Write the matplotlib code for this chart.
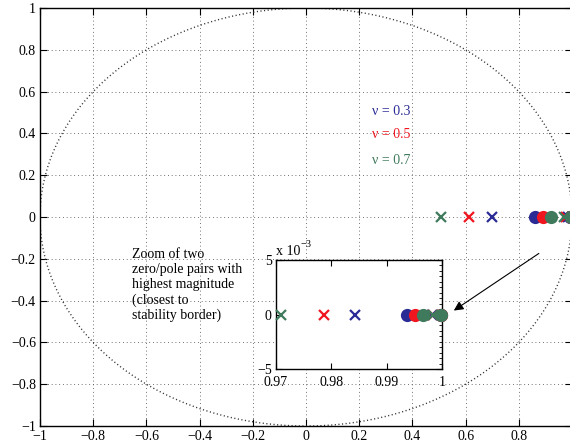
import numpy as np
import matplotlib
matplotlib.use("Agg")
import matplotlib.pyplot as plt
from matplotlib.ticker import MultipleLocator

plt.rcParams['font.family'] = ['Liberation Serif', 'DejaVu Serif']
plt.rcParams['font.size'] = 10

# ---- data ----
nu_values = [0.3, 0.5, 0.7]
series_colors = ['#2b2b96', '#f01620', '#3f7a5c']
legend_labels = ['ν = 0.3', 'ν = 0.5', 'ν = 0.7']
# poles (x) and zeros (o), all on the real axis
poles_outer = [0.700, 0.614, 0.509]
zeros_outer = [0.861, 0.891, 0.921]
poles_inner = [0.9842, 0.9787, 0.9709]
zeros_inner = [0.9936, 0.9951, 0.99655]
poles_edge = [0.9982, 0.9983, 0.9983]
zeros_edge = [0.9998, 0.9998, 0.9998]

main_ticks = [-1, -0.8, -0.6, -0.4, -0.2, 0, 0.2, 0.4, 0.6, 0.8, 1]
main_xticklabels = ['\u22121', '\u22120.8', '\u22120.6', '\u22120.4', '\u22120.2', '0',
                    '0.2', '0.4', '0.6', '0.8', '']
main_yticklabels = ['\u22121', '\u22120.8', '\u22120.6', '\u22120.4', '\u22120.2', '0',
                    '0.2', '0.4', '0.6', '0.8', '1']
inset_xticks = [0.97, 0.98, 0.99, 1.0]
inset_xticklabels = ['0.97', '0.98', '0.99', '1']
inset_yticks = [-0.005, 0, 0.005]
inset_yticklabels = ['\u22125', '0', '5']

annotation_text = "Zoom of two\nzero/pole pairs with\nhighest magnitude\n(closest to\nstability border)"

fig = plt.figure(figsize=(5.70, 4.46), dpi=100)
ax = fig.add_axes([40/570, 20/446, 532/570, 418/446])

theta = np.linspace(0, 2*np.pi, 721)
ax.plot(np.cos(theta), np.sin(theta), color='#333333', lw=1.0, linestyle=(0, (0.8, 1.8)))

def draw_markers(a, groups, clip=True):
    for i in range(3):
        c = series_colors[i]
        xs_p = [g[i] for g in groups[0]]
        xs_z = [g[i] for g in groups[1]]
        a.plot(xs_p, [0]*len(xs_p), linestyle='none', marker='x', ms=7.5, mew=1.6,
               color=c, zorder=3, clip_on=clip)
        a.plot(xs_z, [0]*len(xs_z), linestyle='none', marker='o', ms=9.5, mew=0,
               color=c, zorder=3, clip_on=clip)

draw_markers(ax, ([poles_outer, poles_inner, poles_edge],
                  [zeros_outer, zeros_inner, zeros_edge]))

ax.set_xlim(-1, 1)
ax.set_ylim(-1, 1)
ax.set_xticks(main_ticks)
ax.set_xticklabels(main_xticklabels)
ax.set_yticks(main_ticks)
ax.set_yticklabels(main_yticklabels)
ax.tick_params(direction='in', top=True, right=True, length=5, width=0.8, pad=3, labelsize=10)
ax.grid(True, color='#444444', lw=0.6, linestyle=(0, (1, 3.5)))
for s in ax.spines.values():
    s.set_linewidth(1.0)

for lbl, c, y in zip(legend_labels, series_colors, [0.507, 0.397, 0.272]):
    ax.text(0.248, y, lbl, color=c, fontsize=10, va='center', ha='left')

ax.text(-0.655, -0.15, annotation_text, fontsize=10, va='top', ha='left')

ax.annotate('', xy=(0.547, -0.455), xytext=(0.884, -0.167),
            arrowprops=dict(arrowstyle='-|>', color='k', lw=0.8, mutation_scale=14))

# inset
ins = fig.add_axes([276/570, 77/446, 166/570, 109/446])
ins.set_facecolor('white')
draw_markers(ins, ([poles_inner, poles_edge], [zeros_inner, zeros_edge]), clip=False)
ins.set_xlim(0.97, 1.0)
ins.set_ylim(-0.005, 0.005)
ins.set_xticks(inset_xticks)
ins.set_xticklabels(inset_xticklabels)
ins.set_yticks(inset_yticks)
ins.set_yticklabels(inset_yticklabels)
ins.yaxis.set_minor_locator(MultipleLocator(0.0005))
ins.tick_params(direction='in', top=True, right=True, length=4, width=0.8, pad=3, labelsize=10)
ins.tick_params(axis='x', pad=5)
ins.tick_params(which='minor', direction='in', left=False, right=True, length=2.5, width=0.6)
for s in ins.spines.values():
    s.set_linewidth(1.0)
ins.text(0.0, 1.02, 'x 10', transform=ins.transAxes, fontsize=10, ha='left', va='bottom')
ins.text(0.145, 1.10, '\u22123', transform=ins.transAxes, fontsize=7.5, ha='left', va='bottom')

fig.savefig('out.png', dpi=100)
